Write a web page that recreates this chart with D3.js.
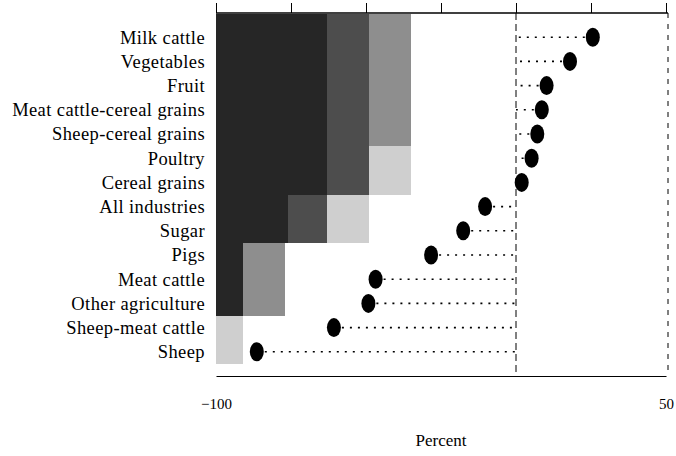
<!DOCTYPE html>
<html>
<head>
<meta charset="utf-8">
<script src="https://cdn.jsdelivr.net/npm/d3@7"></script>
<style>
  html, body { margin: 0; padding: 0; background: #fff; }
  svg { display: block; }
</style>
</head>
<body>
<svg id="chart" width="676" height="456"></svg>
<script>
// ---- data ----
const categories = [
  "Milk cattle", "Vegetables", "Fruit", "Meat cattle-cereal grains",
  "Sheep-cereal grains", "Poultry", "Cereal grains", "All industries",
  "Sugar", "Pigs", "Meat cattle", "Other agriculture",
  "Sheep-meat cattle", "Sheep"
];
const values = [25.6, 18.0, 10.2, 8.6, 7.1, 5.2, 1.9, -10.3, -17.6, -28.3, -46.8, -49.2, -60.7, -86.4];

// background shading bands (right edge of each tone, percent)
const shadeDark  = [-63, -63, -63, -63, -63, -63, -63, -76, -76, -91, -91, -91, -100, -100];
const shadeMid   = [-49, -49, -49, -49, -49, -49, -49, -63, -63, -91, -91, -91, -100, -100];
const shadeLight = [-35, -35, -35, -35, -35, -49, -49, -63, -63, -77, -77, -77, -100, -100];
const shadeFaint = [-35, -35, -35, -35, -35, -35, -35, -49, -49, -77, -77, -77, -91, -91];

const xTicks = [-100, -75, -50, -25, 0, 25, 50];
const xTickLabels = [-100, 50];
const xLabel = "Percent";

// ---- layout ----
const svg = d3.select("#chart");
const mLeft = 216, mRight = 666, mTop = 13, mBottom = 376;

const x = d3.scaleLinear().domain([-100, 50]).range([mLeft, mRight]);
const y = d3.scalePoint().domain(categories).range([mTop, mBottom]).padding(1);
const step = y.step();

const serif = "'Liberation Serif', 'DejaVu Serif', serif";

// shading
const tones = [
  {arr: shadeDark,  prev: null,       color: "#262626"},
  {arr: shadeMid,   prev: shadeDark,  color: "#4d4d4d"},
  {arr: shadeLight, prev: shadeMid,   color: "#8e8e8e"},
  {arr: shadeFaint, prev: shadeLight, color: "#cfcfcf"}
];
const gShade = svg.append("g").attr("shape-rendering", "crispEdges");
tones.forEach(t => {
  categories.forEach((c, i) => {
    const x0 = t.prev ? t.prev[i] : -100;
    const x1 = t.arr[i];
    if (x1 <= x0) return;
    const yc = y(c);
    const y0 = Math.round(i === 0 ? mTop + 1 : yc - step / 2);
    const y1 = Math.round(yc + step / 2);
    gShade.append("rect")
      .attr("x", Math.round(x(x0))).attr("y", y0)
      .attr("width", Math.round(x(x1)) - Math.round(x(x0))).attr("height", y1 - y0)
      .attr("fill", t.color);
  });
});

// zero line and right frame
svg.append("line")
  .attr("x1", x(0)).attr("x2", x(0)).attr("y1", mTop).attr("y2", mBottom)
  .attr("stroke", "#000").attr("stroke-width", 1).attr("stroke-dasharray", "7,4");
svg.append("line")
  .attr("x1", x(50) + 2).attr("x2", x(50) + 2).attr("y1", mTop).attr("y2", mBottom)
  .attr("stroke", "#000").attr("stroke-width", 1).attr("stroke-dasharray", "5,6");

// top axis (ticks only)
const topAxis = svg.append("g")
  .attr("transform", `translate(0,${mTop})`)
  .call(d3.axisTop(x).tickValues(xTicks).tickSize(10).tickFormat(""));
topAxis.select(".domain").attr("stroke", "#000").attr("stroke-width", 1.5)
  .attr("d", `M${mLeft},0H${mRight + 2}`);
topAxis.selectAll(".tick line").attr("stroke", "#000");

// bottom axis
const botAxis = svg.append("g")
  .attr("transform", `translate(0,${mBottom})`)
  .call(d3.axisBottom(x).tickValues(xTickLabels).tickSize(0).tickPadding(22).tickFormat(d3.format("d")));
botAxis.select(".domain").attr("stroke", "#000").attr("stroke-width", 1.2);
botAxis.selectAll(".tick text")
  .attr("font-family", serif).attr("font-size", 15).attr("fill", "#000");

// leader lines
svg.append("g").selectAll("line")
  .data(categories)
  .join("line")
  .attr("x1", (c, i) => x(values[i]))
  .attr("x2", x(0))
  .attr("y1", c => y(c)).attr("y2", c => y(c))
  .attr("stroke", "#000").attr("stroke-width", 1.6)
  .attr("stroke-dasharray", "2,6");

// dots
svg.append("g").selectAll("ellipse")
  .data(categories)
  .join("ellipse")
  .attr("cx", (c, i) => x(values[i]))
  .attr("cy", c => y(c))
  .attr("rx", 7).attr("ry", 9.5)
  .attr("fill", "#000");

// category labels
svg.append("g").selectAll("text")
  .data(categories)
  .join("text")
  .attr("x", 205)
  .attr("y", c => y(c))
  .attr("dy", "0.35em")
  .attr("text-anchor", "end")
  .attr("font-family", serif)
  .attr("font-size", 18.5)
  .attr("letter-spacing", 0.4)
  .attr("fill", "#000")
  .text(c => c);

// x label
svg.append("text")
  .attr("x", (mLeft + mRight) / 2)
  .attr("y", 446)
  .attr("text-anchor", "middle")
  .attr("font-family", serif)
  .attr("font-size", 17)
  .attr("fill", "#000")
  .text(xLabel);
</script>
</body>
</html>
